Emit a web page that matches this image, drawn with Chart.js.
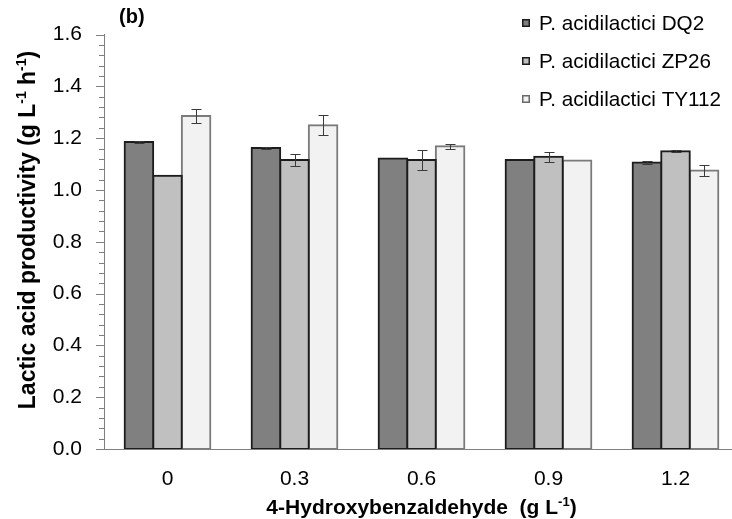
<!DOCTYPE html>
<html>
<head>
<meta charset="utf-8">
<script src="https://cdn.jsdelivr.net/npm/chart.js@4.4.1/dist/chart.umd.min.js"></script>
<style>
  html, body { margin: 0; padding: 0; background: #fff; overflow: hidden; }
  #wrap { width: 732px; height: 519px; overflow: hidden; }
  canvas { display: block; }
</style>
</head>
<body>
<div id="wrap"><canvas id="c" width="745" height="519"></canvas></div>
<script>
// 4-Hydroxybenzaldehyde concentrations (g/L)
const categories = ['0', '0.3', '0.6', '0.9', '1.2'];

// Lactic acid productivity (g L-1 h-1) and standard deviations per strain
const seriesNames = ['P. acidilactici DQ2', 'P. acidilactici ZP26', 'P. acidilactici TY112'];
const dq2 = [1.185, 1.162, 1.122, 1.116, 1.106];
const dq2Err = [0.005, 0.003, 0.0, 0.0, 0.007];
const zp26 = [1.055, 1.116, 1.116, 1.128, 1.150];
const zp26Err = [0.0, 0.023, 0.039, 0.018, 0.004];
const ty112 = [1.286, 1.250, 1.169, 1.114, 1.075];
const ty112Err = [0.026, 0.039, 0.009, 0.0, 0.021];

const yTicks = [0, 0.2, 0.4, 0.6, 0.8, 1.0, 1.2, 1.4, 1.6];

const FONT = '"Liberation Sans", Arial, sans-serif';

// Error bars, minor ticks, legend and rich-text axis titles
const decorations = {
  id: 'decorations',
  afterDatasetsDraw(chart) {
    const ctx = chart.ctx;
    const y = chart.scales.y;
    ctx.save();
    ctx.strokeStyle = '#3a3a3a';
    ctx.lineWidth = 1;
    chart.data.datasets.forEach((ds, di) => {
      const meta = chart.getDatasetMeta(di);
      meta.data.forEach((bar, i) => {
        const v = ds.data[i], e = ds.errors[i];
        if (!e) return;
        const top = Math.round(y.getPixelForValue(v + e)) + 0.5;
        const bot = Math.round(y.getPixelForValue(v - e)) + 0.5;
        const x = Math.round(bar.x) + 0.5;
        ctx.beginPath();
        ctx.moveTo(x, top); ctx.lineTo(x, bot);
        ctx.moveTo(x - 5, top); ctx.lineTo(x + 5, top);
        ctx.moveTo(x - 5, bot); ctx.lineTo(x + 5, bot);
        ctx.stroke();
      });
    });
    ctx.restore();
  },
  afterDraw(chart) {
    const ctx = chart.ctx;
    const y = chart.scales.y;
    const area = chart.chartArea;
    ctx.save();
    // y axis tick marks: majors every 0.2, minors every 0.04
    ctx.strokeStyle = '#808080';
    ctx.lineWidth = 1;
    for (let k = 0; k <= 40; k++) {
      const py = Math.round(y.getPixelForValue(k * 0.04)) + 0.5;
      const len = (k % 5 === 0) ? 8 : 5;
      ctx.beginPath();
      ctx.moveTo(area.left - len, py);
      ctx.lineTo(area.left, py);
      ctx.stroke();
    }

    // legend
    const lx = 522, ly0 = 23, step = 38;
    chart.data.datasets.forEach((ds, i) => {
      const cy = ly0 + i * step;
      ctx.fillStyle = ds.backgroundColor;
      ctx.fillRect(lx, cy - 4, 8, 8);
      ctx.strokeStyle = ds.legendBorder;
      ctx.lineWidth = 1.5;
      ctx.strokeRect(lx + 0.75, cy - 3.25, 6.5, 6.5);
      ctx.fillStyle = '#000';
      ctx.font = '20.7px ' + FONT;
      ctx.textBaseline = 'middle';
      ctx.textAlign = 'left';
      ctx.fillText(ds.label, 539, cy + 1);
    });

    // panel tag
    ctx.font = 'bold 20px ' + FONT;
    ctx.fillStyle = '#000';
    ctx.textBaseline = 'middle';
    ctx.fillText('(b)', 119, 17);

    // rich text with superscripts
    function rich(parts, size) {
      let w = 0;
      parts.forEach(p => {
        ctx.font = 'bold ' + (p.sup ? Math.round(size * 0.62) : size) + 'px ' + FONT;
        p.w = ctx.measureText(p.t).width;
        w += p.w;
      });
      return w;
    }
    function drawRich(parts, size, cx, baseline) {
      const w = rich(parts, size);
      let x = cx - w / 2;
      ctx.textAlign = 'left';
      ctx.textBaseline = 'alphabetic';
      parts.forEach(p => {
        ctx.font = 'bold ' + (p.sup ? Math.round(size * 0.62) : size) + 'px ' + FONT;
        ctx.fillText(p.t, x, baseline - (p.sup ? size * 0.38 : 0));
        x += p.w;
      });
    }
    ctx.fillStyle = '#000';
    drawRich([{t: '4-Hydroxybenzaldehyde  (g L'}, {t: '-1', sup: true}, {t: ')'}], 21,
      (area.left + area.right) / 2, 514);

    ctx.save();
    ctx.translate(35, 230);
    ctx.rotate(-Math.PI / 2);
    drawRich([{t: 'Lactic acid productivity (g L'}, {t: '-1', sup: true}, {t: ' h'},
      {t: '-1', sup: true}, {t: ')'}], 23, 0, 0);
    ctx.restore();

    ctx.restore();
  }
};

const barCommon = {
  borderWidth: 2,
  inflateAmount: 1,
  borderSkipped: false,
  barPercentage: 1.0,
  categoryPercentage: 0.675
};

new Chart(document.getElementById('c'), {
  type: 'bar',
  data: {
    labels: categories,
    datasets: [
      Object.assign({ label: seriesNames[0], data: dq2, errors: dq2Err,
        backgroundColor: '#808080', borderColor: '#1c1c1c', legendBorder: '#1c1c1c' }, barCommon),
      Object.assign({ label: seriesNames[1], data: zp26, errors: zp26Err,
        backgroundColor: '#c0c0c0', borderColor: '#1c1c1c', legendBorder: '#1c1c1c' }, barCommon),
      Object.assign({ label: seriesNames[2], data: ty112, errors: ty112Err,
        backgroundColor: '#f2f2f2', borderColor: '#7a7a7a', legendBorder: '#6a6a6a' }, barCommon)
    ]
  },
  options: {
    responsive: false,
    animation: false,
    devicePixelRatio: 1,
    layout: { padding: { left: 0, right: 6, top: 25, bottom: 0 } },
    plugins: { legend: { display: false }, tooltip: { enabled: false } },
    scales: {
      x: {
        grid: { display: false, drawTicks: false },
        border: { color: '#808080', width: 1 },
        ticks: { color: '#000', font: { family: FONT, size: 21 }, padding: 18 },
        afterFit(s) { s.height = 70; }
      },
      y: {
        min: 0, max: 1.6,
        afterBuildTicks(s) { s.ticks = yTicks.map(v => ({ value: v })); },
        grid: { display: false, drawTicks: false },
        border: { color: '#808080', width: 1 },
        ticks: {
          color: '#000', font: { family: FONT, size: 21 }, padding: 22,
          callback: v => Number(v).toFixed(1)
        },
        afterFit(s) { s.width = 104; }
      }
    }
  },
  plugins: [decorations]
});
</script>
</body>
</html>
